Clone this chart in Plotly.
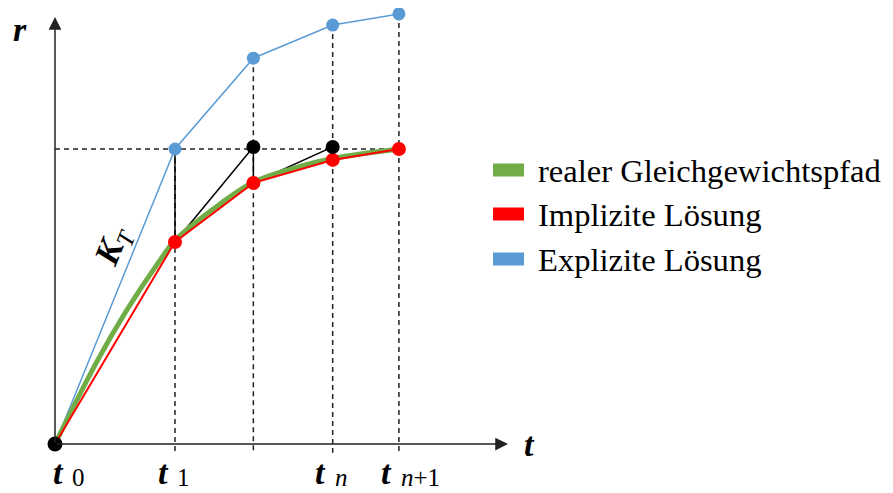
import plotly.graph_objects as go

# ---------------- data ----------------
t_vals = [0.0, 1.0, 1.653, 2.314, 2.866]          # t0, t1, t2, tn, tn+1
tick_subs = ["0", "1", "", "<i>n</i>", "<i>n</i>+1"]
explicit_r = [0.0, 1.0, 1.308, 1.42, 1.458]
implicit_r = [0.0, 0.685, 0.885, 0.963, 1.0]
green_t = [0.0, 0.35, 0.6, 0.87, 1.0, 1.33, 1.653, 2.0, 2.314, 2.866]
green_r = [0.0, 0.28, 0.455, 0.62, 0.69, 0.80, 0.887, 0.936, 0.968, 1.0]
pred_t = [1.653, 2.314]
pred_r = [1.007, 1.007]
target_r = 1.0
legend_names = ["realer Gleichgewichtspfad", "Implizite Lösung", "Explizite Lösung"]
legend_colors = ["#70AD47", "#FF0000", "#5B9BD5"]

OFF = 8                      # page body margin
W, H = 893 - OFF, 493 - OFF  # figure size
OX, OY = 55, 444             # origin in screen pixels
SX, SY = 120.0, 295.0        # pixels per unit


def paper(px, py):
    """screen pixel -> paper coordinates"""
    return (px - OFF) / W, 1 - (py - OFF) / H


fig = go.Figure()

# construction (black) segments
cx, cy = [], []
for i in range(1, 4):
    start_r = explicit_r[1] if i == 1 else pred_r[i - 2]
    cx += [t_vals[i], t_vals[i], None]
    cy += [start_r, implicit_r[i], None]
    end_r = pred_r[i - 1] if i - 1 < len(pred_r) else target_r + 0.006
    cx += [t_vals[i], t_vals[i + 1], None]
    cy += [implicit_r[i], end_r, None]

fig.add_trace(go.Scatter(x=t_vals, y=explicit_r, mode="lines",
                         line=dict(color="#5B9BD5", width=1.5), showlegend=False))
fig.add_trace(go.Scatter(x=cx, y=cy, mode="lines",
                         line=dict(color="black", width=1.5), showlegend=False))
fig.add_trace(go.Scatter(x=green_t, y=green_r, mode="lines",
                         line=dict(color="#70AD47", width=5, shape="spline", smoothing=1.0),
                         showlegend=False))
fig.add_trace(go.Scatter(x=t_vals, y=implicit_r, mode="lines",
                         line=dict(color="#FF0000", width=2), showlegend=False))
fig.add_trace(go.Scatter(x=t_vals[1:], y=explicit_r[1:], mode="markers",
                         marker=dict(color="#5B9BD5", size=13), showlegend=False))
fig.add_trace(go.Scatter(x=t_vals[1:], y=implicit_r[1:], mode="markers",
                         marker=dict(color="#FF0000", size=14), showlegend=False))
fig.add_trace(go.Scatter(x=pred_t, y=pred_r, mode="markers",
                         marker=dict(color="black", size=14), showlegend=False))
fig.add_trace(go.Scatter(x=[t_vals[0]], y=[implicit_r[0]], mode="markers",
                         marker=dict(color="black", size=15), showlegend=False, cliponaxis=False))

shapes = []
dash = "5px,4px"
shapes.append(dict(type="line", xref="x", yref="y", x0=t_vals[0], x1=t_vals[-1],
                   y0=target_r, y1=target_r, layer="below",
                   line=dict(color="#222", width=1.5, dash=dash)))
for i in range(1, 5):
    top = target_r if i == 1 else explicit_r[i]
    shapes.append(dict(type="line", xref="x", yref="y", x0=t_vals[i], x1=t_vals[i],
                       y0=top, y1=-0.03, layer="below",
                       line=dict(color="#222", width=1.5, dash=dash)))
leg_y = [170, 214, 259]
for yc, col in zip(leg_y, legend_colors):
    x0, y0 = paper(493, yc - 6.5)
    x1, y1 = paper(524, yc + 6.5)
    shapes.append(dict(type="rect", xref="paper", yref="paper", x0=x0, x1=x1, y0=y1, y1=y0,
                       fillcolor=col, line=dict(width=0)))

annotations = []
x_tip = (508 - OX) / SX
y_tip = (OY - 17) / SY
for (xt, yt) in [(x_tip, 0), (0, y_tip)]:
    annotations.append(dict(x=xt, y=yt, ax=0, ay=0, xref="x", yref="y", axref="x", ayref="y",
                            text="", showarrow=True, arrowhead=2, arrowsize=1.7, arrowwidth=1.5,
                            arrowcolor="#222"))

serif = "Liberation Serif"


def label(px, py, text, size, xanchor="center", yanchor="middle", angle=0):
    x, y = paper(px, py)
    annotations.append(dict(x=x, y=y, xref="paper", yref="paper", text=text,
                            showarrow=False, xanchor=xanchor, yanchor=yanchor,
                            textangle=angle, borderpad=0,
                            font=dict(family=serif, size=size, color="black")))


label(20, 30, "<b><i>r</i></b>", 34)
label(529, 444, "<b><i>t</i></b>", 34)

for i, (tv, sub) in enumerate(zip(t_vals, tick_subs)):
    if sub == "":
        continue
    tx = OX + tv * SX
    gx = tx + (3 if i == 0 else -12)
    label(gx, 492, "<b><i>t</i></b>", 34, yanchor="bottom")
    label(gx + 13, 492, sub, 25, xanchor="left", yanchor="bottom")

label(113, 246, "<b><i>K</i></b><sub><i>T</i></sub>", 35, angle=-68)

for yc, name in zip(leg_y, legend_names):
    label(537, yc + 1, name, 32.6, xanchor="left")

fig.update_layout(
    width=W, height=H,
    margin=dict(l=0, r=0, t=0, b=0),
    paper_bgcolor="white", plot_bgcolor="white",
    xaxis=dict(range=[-(OX - OFF) / SX, (W - (OX - OFF)) / SX], visible=False, fixedrange=True),
    yaxis=dict(range=[-(H - (OY - OFF)) / SY, (OY - OFF) / SY], visible=False, fixedrange=True),
    shapes=shapes, annotations=annotations, showlegend=False,
)
fig.write_html("out.html")
